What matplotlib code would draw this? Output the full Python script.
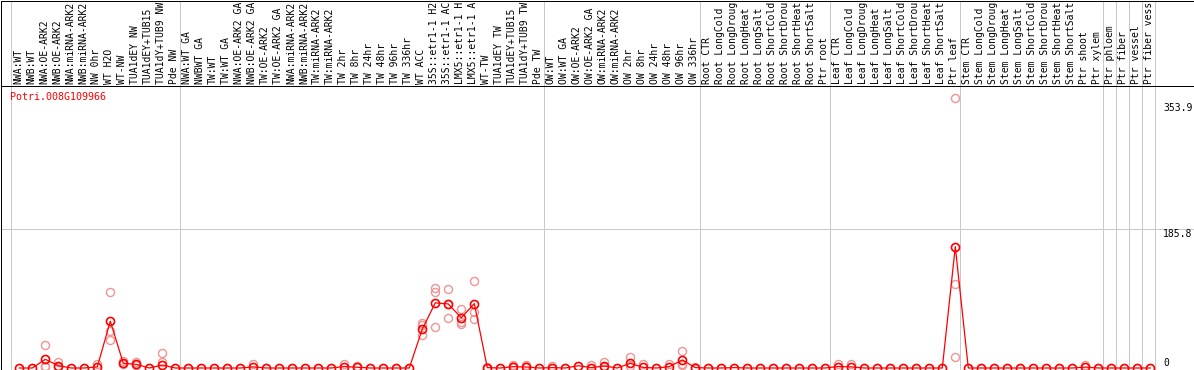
import matplotlib
matplotlib.use("Agg")
import matplotlib.pyplot as plt
import matplotlib.transforms as mtransforms

# sample labels, in plot order
labels = [
    "NWA:WT", "NWB:WT", "NWA:OE-ARK2", "NWB:OE-ARK2", "NWA:miRNA-ARK2", "NWB:miRNA-ARK2",
    "NW 0hr", "WT H2O", "WT-NW", "TUA1dEY NW", "TUA1dEY+TUB15 NW", "TUA1dY+TUB9 NW", "Pde NW",
    "NWA:WT GA", "NWBWT GA", "TW:WT", "TW:WT GA", "NWA:OE-ARK2 GA", "NWB:OE-ARK2 GA",
    "TW:OE-ARK2", "TW:OE-ARK2 GA", "NWA:miRNA-ARK2", "NWB:miRNA-ARK2", "TW:miRNA-ARK2",
    "TW:miRNA-ARK2", "TW 2hr", "TW 8hr", "TW 24hr", "TW 48hr", "TW 96hr", "TW 336hr", "WT ACC",
    "35S::etr1-1 H2O", "35S::etr1-1 ACC", "LMX5::etr1-1 H2O", "LMX5::etr1-1 ACC", "WT-TW",
    "TUA1dEY TW", "TUA1dEY+TUB15 TW", "TUA1dY+TUB9 TW", "Pde TW",
    "OW:WT", "OW:WT GA", "OW:OE-ARK2", "OW:OE-ARK2 GA", "OW:miRNA-ARK2", "OW:miRNA-ARK2",
    "OW 2hr", "OW 8hr", "OW 24hr", "OW 48hr", "OW 96hr", "OW 336hr",
    "Root CTR", "Root LongCold", "Root LongDrought", "Root LongHeat", "Root LongSalt",
    "Root ShortCold", "Root ShortDrought", "Root ShortHeat", "Root ShortSalt", "Ptr root",
    "Leaf CTR", "Leaf LongCold", "Leaf LongDrought", "Leaf LongHeat", "Leaf LongSalt",
    "Leaf ShortCold", "Leaf ShortDrought", "Leaf ShortHeat", "Leaf ShortSalt", "Ptr leaf",
    "Stem CTR", "Stem LongCold", "Stem LongDrought", "Stem LongHeat", "Stem LongSalt",
    "Stem ShortCold", "Stem ShortDrought", "Stem ShortHeat", "Stem ShortSalt", "Ptr shoot",
    "Ptr xylem", "Ptr phloem", "Ptr fiber", "Ptr vessel", "Ptr fiber vessel",
]

# first sample index of each group (separator lines)
group_starts = [0, 13, 41, 53, 63, 73, 84, 85, 86, 87, 88]

# mean expression per sample
means = [
    0, 0, 11.6, 3.1, 0, 0, 1.5, 62.5, 6.2, 4.9, 0, 4, 0,
    0, 0, 0, 0, 0, 1.5, 0, 0, 0, 0, 0, 0, 2, 1, 0, 0, 0, 0, 52, 87, 85.5, 67, 86, 0.5, 0, 1.8, 1.3, 0,
    0.5, 0, 3, 0.5, 2.7, 0, 6.2, 0.7, 0, 1.8, 10.7, 0.5,
    0, 0, 0.5, 0, 0, 0, 0, 0, 0, 0,
    2, 1.5, 0, 0, 0, 0, 0, 0, 0, 162,
    0, 0, 0, 0, 0, 0, 0, 0, 0, 1.2, 0,
    0, 0, 0, 0,
]

# visible replicate values (sample index -> values)
rep_index = [2, 3, 6, 7, 8, 9, 11, 18, 25, 26, 31, 32, 33, 34, 35, 36, 38, 39,
             41, 44, 45, 47, 48, 50, 51, 52, 63, 64, 72, 82]
rep_values = [
    [30.7, 3, 1], [7.6, 1], [5], [101, 37.4, 49], [9, 5], [8.4, 4], [19.6, 8.4],
    [5], [5], [3], [60.5, 57, 44], [106.4, 101.9, 55.2], [105, 66.3, 85],
    [78.4, 61.8, 58.8], [116.6, 75.2, 65], [1.5], [4, 3], [4.5, 3],
    [2.5], [4], [7.6, 2], [15, 3], [4.9], [5], [22.7, 5, 4], [2],
    [6], [5], [360, 111.8, 14.3], [4.5],
]

gene = "Potri.008G109966"
ytick_vals = [353.9, 185.8, 0]

W, H = 1194, 370
fig = plt.figure(figsize=(W / 100, H / 100), dpi=100)
mono = "DejaVu Sans Mono"
grey = "#c8c8c8"
lw1 = 0.72  # one pixel

# pixel calibration
x0, dx = 19.3, 13.0
zero_px, ppu = 368.0, 0.7488
head = 86.0

left_px, right_px, bot_px = 0.5, 1193.5, 369.5
xlim = ((left_px - x0) / dx, (right_px - x0) / dx)

ax = fig.add_axes([left_px / W, (H - bot_px) / H, (right_px - left_px) / W, (bot_px - head) / H])
ax.set_xlim(*xlim)
ax.set_ylim((zero_px - bot_px) / ppu, (zero_px - head) / ppu)
ax.set_xticks([])
ax.set_yticks([])
for s in ax.spines.values():
    s.set_linewidth(lw1)
    s.set_color("black")

hx = fig.add_axes([left_px / W, (H - head) / H, (right_px - left_px) / W, (head - 0.5) / H])
hx.set_xlim(*xlim)
hx.set_ylim(0, 1)
hx.set_xticks([])
hx.set_yticks([])
for k, s in hx.spines.items():
    s.set_linewidth(lw1)
    s.set_color("black")
hx.spines["bottom"].set_visible(False)

# separators and grid
for g in group_starts:
    ax.axvline(g - 0.64, color=grey, lw=lw1, zorder=0)
    hx.axvline(g - 0.64, color=grey, lw=lw1, zorder=0)
ax.axhline(185.8, color=grey, lw=lw1, zorder=0)

# replicates
for i, vals in zip(rep_index, rep_values):
    ax.plot([i] * len(vals), vals, linestyle="none", marker="o", ms=5.8,
            mfc="none", mec="#f09494", mew=1.0, zorder=2, clip_on=False)

# mean line
xs = list(range(len(means)))
ax.plot(xs, means, color="#ff0000", lw=0.9, marker="o", ms=5.8, mfc="none",
        mec="#ff0000", mew=1.2, zorder=3, clip_on=True)

# sample labels (header only has room for 14 characters)
for i, lab in enumerate(labels):
    hx.text(i - 0.1, 0.025, lab[:14].rstrip(), rotation=90, ha="center", va="bottom",
            family=mono, fontsize=7.0, clip_on=True)

# value labels on the right
trans = mtransforms.blended_transform_factory(ax.transAxes, ax.transData)
for v in ytick_vals:
    ax.text((1163 - left_px) / (right_px - left_px), v if v > 0 else 13, f"{v:g}",
            transform=trans, ha="left", va="top", family=mono, fontsize=7.0)

fig.text(10 / W, 1 - 97 / H, gene, color="#ff0000", family=mono, fontsize=7.2,
         ha="left", va="center")

fig.savefig("out.png", dpi=100)
